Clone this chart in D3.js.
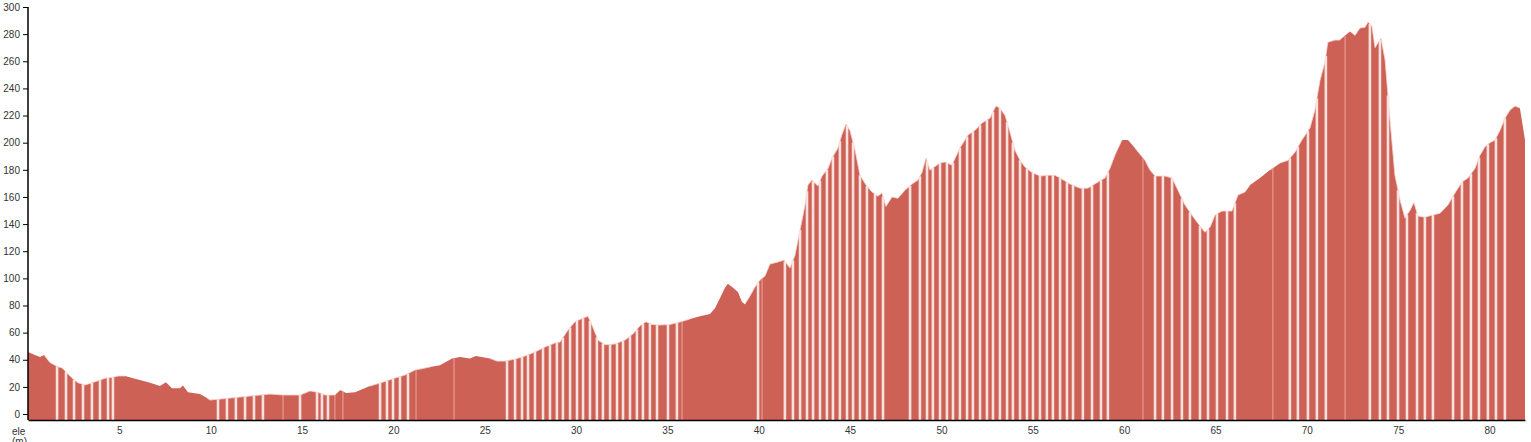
<!DOCTYPE html>
<html><head><meta charset="utf-8">
<script src="https://cdn.jsdelivr.net/npm/d3@7"></script>
<style>
html,body{margin:0;padding:0;background:#fff;}
svg{display:block;font-family:"Liberation Sans",Arial,sans-serif;}
</style></head>
<body>
<svg id="c" width="1531" height="442"></svg>
<script>
const dist = [0,0.38,0.66,0.88,1.20,1.59,1.86,2.08,2.41,2.74,3.12,3.50,3.94,4.27,4.60,4.93,5.31,5.86,6.68,7.22,7.55,7.88,8.32,8.48,8.76,9.41,9.80,9.96,10.51,11.60,12.70,13.25,13.96,14.89,15.44,15.87,16.26,16.80,17.08,17.41,17.90,18.72,19.54,20.09,20.63,21.18,22.00,22.55,23.21,23.65,24.19,24.52,25.29,25.67,26.11,26.66,27.20,27.75,28.30,28.84,29.12,29.56,29.94,30.38,30.65,30.87,31.20,31.58,32.13,32.68,33.11,33.50,33.83,34.15,34.59,35.14,35.69,36.23,36.78,37.33,37.60,37.88,38.15,38.31,38.59,38.86,39.08,39.24,39.52,39.79,40.07,40.34,40.61,41.05,41.38,41.71,41.98,42.26,42.53,42.69,42.91,43.24,43.46,43.79,44.01,44.33,44.55,44.77,44.99,45.27,45.54,45.87,46.20,46.52,46.74,46.96,47.29,47.62,48.00,48.39,48.71,48.93,49.15,49.37,49.92,50.19,50.57,51.01,51.45,51.83,52.22,52.65,52.98,53.20,53.48,53.75,54.02,54.30,54.57,54.95,55.39,55.83,56.21,56.49,57.03,57.58,58.02,58.57,58.95,59.22,59.50,59.88,60.21,60.59,61.14,61.41,61.69,62.23,62.62,62.89,63.33,63.71,64.15,64.42,64.70,64.97,65.35,65.90,66.23,66.61,66.89,67.43,67.98,68.53,68.97,69.35,69.73,70.17,70.44,70.72,70.99,71.15,71.54,71.81,72.09,72.36,72.63,72.91,73.18,73.35,73.56,73.73,73.89,74.06,74.28,74.55,74.82,75.10,75.37,75.64,75.86,76.08,76.46,76.85,77.29,77.72,78.11,78.49,78.82,79.20,79.47,79.75,80.02,80.30,80.57,80.84,81.12,81.39,81.66,81.94];
const ele = [45.7,43.5,42,43.5,38,35,34,31,26.5,23,21.4,23,25,26.5,27,28,28,26,23,20.6,23.5,19,19,21,16,14.7,11.8,10.3,11,12.5,14,14.7,14,14,17,16,14,14,17.7,15.5,16,20.6,24,26.5,28.7,32.4,34.6,36,41,42,41,42.7,41,39,39,40.5,42.7,45.7,49.4,52.3,53,62,68,70.7,72,65.6,54.5,51,51.6,54.5,59,65,68,66,65.6,66,67.8,70,72,73.7,78,85.5,93,96,93,90,82.5,81,87,93.6,98.7,101.7,110.5,112,113.5,107.6,117,135.6,154,168.8,172.4,168,175.4,181,188.7,196,206,213.7,209,194.5,176,168.8,163.6,160.6,163,153,160,159,165,169.5,172.4,178,188.7,179.8,185,185.7,183.5,196,205.6,209,214.5,218,227,225.5,220,207.8,194.5,187,182,178,175.4,176,176,174,169.5,166.5,166.5,171,174,181,191,202,202,196,187,179.8,175.4,175.4,174,166.5,154,146.6,138.5,134,137.7,146.6,149.6,149.6,161.4,163.6,168.8,174,179.8,185,187,193,202,210.8,224,246,259.4,274,275.6,275.6,279,282,279,284.5,285,289,286,270,273.6,277,261,216.7,176,157.7,144.4,150,156,146,145,146.6,148,154,163,171,174,181,190.6,197,200,202,209,218,224,227,225.5,202];
const stripes = [1.59,2.08,2.52,3.01,3.50,3.94,4.38,4.65,10.40,10.89,11.38,11.88,12.37,12.86,14.89,15.82,16.09,16.42,19.27,19.65,19.98,20.36,20.80,26.22,26.66,27.04,27.37,27.75,28.19,28.57,28.95,29.28,29.67,30.05,30.38,30.76,31.14,31.47,31.86,32.24,32.57,32.95,33.33,33.66,34.04,34.43,35.03,35.52,39.96,41.43,41.87,42.26,42.64,42.97,43.35,43.73,44.06,44.44,44.83,45.16,45.54,45.92,46.36,46.80,48.28,48.82,49.21,49.53,49.92,50.30,50.63,51.01,51.40,51.72,52.11,52.49,52.82,53.20,53.59,53.91,54.30,54.68,55.01,55.39,55.77,56.10,56.49,56.87,57.20,57.74,58.24,58.73,59.11,61.69,62.12,62.62,63.16,63.60,64.15,64.59,65.08,65.63,66.06,69.07,69.51,70.06,70.55,71.04,73.45,74.00,74.44,74.99,75.48,76.03,76.46,76.90,78.00,78.49,78.98,79.42,79.91,80.35,80.84];
const thinStripes = [13.96,16.80,17.24,21.24,23.32,35.80,40.18,61.03,68.14,72.09];
const yTicks = d3.range(0, 301, 20);
const xTicks = [5,10,15,20,25,30,35,40,45,50,55,60,65,70,75,80];

const svg = d3.select("#c");
const x = d3.scaleLinear().domain([0, 81.94]).range([28, 1525]);
const y = d3.scaleLinear().domain([-4.4, 300]).range([420, 7]);
const pts = dist.map((d,i)=>({d, e: ele[i]}));
const interp = d3.scaleLinear().domain(dist).range(ele);

svg.append("path")
  .attr("d", d3.area().x(p=>x(p.d)).y0(y(-4.4)).y1(p=>y(p.e))(pts))
  .attr("fill", "#cd6155");

// pale outline along the top where stripes are dense
const near = d => stripes.some(s => Math.abs(s - d) < 0.55);
const segs = [];
for (let i = 0; i < pts.length - 1; i++) {
  if (near(pts[i].d) || near(pts[i+1].d)) segs.push([pts[i], pts[i+1]]);
}
svg.append("g").selectAll("path").data(segs).join("path")
  .attr("d", s => d3.line().x(p=>x(p.d)).y(p=>y(p.e))(s))
  .attr("fill", "none").attr("stroke", "#f6d3cf").attr("stroke-width", 0.8);

svg.append("g").selectAll("line").data(stripes).join("line")
  .attr("x1", d=>x(d)).attr("x2", d=>x(d))
  .attr("y1", y(-4.4)).attr("y2", d=>y(interp(d)))
  .attr("stroke", "#fbe2df").attr("stroke-width", 2.6);
svg.append("g").selectAll("line").data(thinStripes).join("line")
  .attr("x1", d=>x(d)).attr("x2", d=>x(d))
  .attr("y1", y(-4.4)).attr("y2", d=>y(interp(d)))
  .attr("stroke", "#eaa69e").attr("stroke-width", 1);

const ya = svg.append("g").attr("transform", "translate(28,0)")
  .call(d3.axisLeft(y).tickValues(yTicks).tickSizeInner(5).tickSizeOuter(0).tickFormat(d3.format("d")));
const xa = svg.append("g").attr("transform", "translate(0,420)")
  .call(d3.axisBottom(x).tickValues(xTicks).tickSizeInner(0).tickSizeOuter(0).tickFormat(d3.format("d")));
[ya, xa].forEach(a=>{
  a.select(".domain").attr("stroke", "#000").attr("stroke-width", 1.5);
  a.selectAll(".tick line").attr("stroke", "#000");
  a.selectAll("text").attr("font-size", 10).attr("fill", "#333").attr("font-family", "Liberation Sans, Arial, sans-serif");
});
ya.select(".domain").attr("d", "M0,7V420");
xa.selectAll("text").attr("dy", "1.1em");
svg.append("text").attr("x", 12).attr("y", 435).attr("font-size", 10).attr("fill", "#333").text("ele");
svg.append("text").attr("x", 12).attr("y", 445).attr("font-size", 10).attr("fill", "#333").text("(m)");
</script>
</body></html>
